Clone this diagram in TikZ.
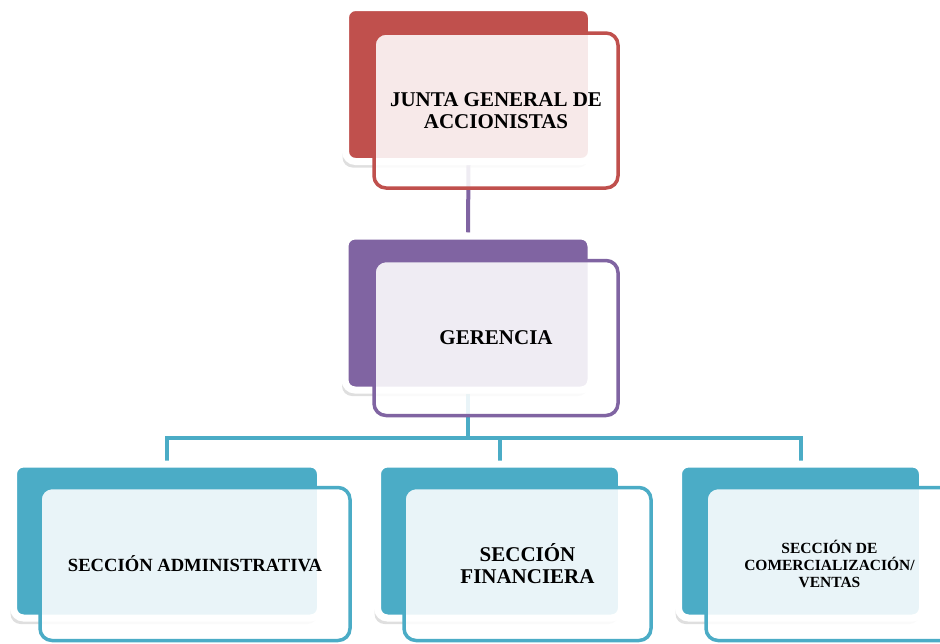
\documentclass[tikz,border=0pt]{standalone}
\usepackage{fontspec}
\setmainfont{Liberation Serif}
\usetikzlibrary{positioning, shadows, backgrounds}

\definecolor{juntared}{HTML}{C0504D}
\definecolor{gerpurple}{HTML}{8064A2}
\definecolor{secteal}{HTML}{4BACC6}

\begin{document}
\begin{tikzpicture}[
  x=1pt, y=-1pt,
  font=\bfseries,
  backbox/.style={fill=#1, draw=white, line width=7pt, rounded corners=10pt,
                  minimum height=154pt,
                  drop shadow={shadow xshift=-3pt, shadow yshift=-6pt, opacity=.25}},
  frontbox/.style={draw=#1, line width=3.5pt, rounded corners=12pt,
                   fill=white, fill opacity=.88, text opacity=1,
                   minimum height=155pt, align=center},
  link/.style={line width=4pt, draw=#1},
]
\useasboundingbox (0,0) rectangle (940,643);

%% ── Junta general (top) ──────────────────────────────────────────────────
\node[backbox=juntared, minimum width=246pt]  (juntab) at (468.5, 84.5) {};
\node[frontbox=juntared, minimum width=244pt,
      font=\bfseries\fontsize{21}{22}\selectfont] (juntaf) at (496, 110.5)
  {JUNTA GENERAL DE\\ACCIONISTAS};

%% ── Gerencia (middle) ────────────────────────────────────────────────────
\node[backbox=gerpurple, minimum width=246pt] (gerb) at (468, 313) {};
\node[frontbox=gerpurple, minimum width=244pt,
      font=\bfseries\fontsize{21}{22}\selectfont] (gerf) at (496, 338)
  {GERENCIA};

%% ── Secciones (bottom row) ───────────────────────────────────────────────
\node[backbox=secteal, minimum width=307pt] (admb) at (167, 541) {};
\node[frontbox=secteal, minimum width=310pt, minimum height=153pt,
      font=\bfseries\fontsize{18.6}{20}\selectfont] (admf) at (195, 564)
  {SECCIÓN ADMINISTRATIVA};

\node[backbox=secteal, minimum width=244pt] (finb) at (499.5, 541) {};
\node[frontbox=secteal, minimum width=247pt, minimum height=153pt,
      font=\bfseries\fontsize{21}{22}\selectfont] (finf) at (527.5, 564)
  {SECCIÓN\\FINANCIERA};

\node[backbox=secteal, minimum width=244pt] (comb) at (800.5, 541) {};
\node[frontbox=secteal, minimum width=247pt, minimum height=153pt,
      font=\bfseries\fontsize{15.5}{17}\selectfont] (comf) at (829.5, 564)
  {SECCIÓN DE\\COMERCIALIZACIÓN/\\VENTAS};

%% ── Connectors (behind the boxes) ────────────────────────────────────────
\coordinate (bus) at (468, 438);
\begin{scope}[on background layer]
  \draw[link=gerpurple] (juntab.south) -- (gerb.north);
  \draw[link=secteal]   (gerb.south) -- (bus);
  \draw[link=secteal]   (admb.north) |- (bus) -| (comb.north);
  \draw[link=secteal]   (finb.north) -- (finb.north |- bus);
\end{scope}

\end{tikzpicture}
\end{document}
